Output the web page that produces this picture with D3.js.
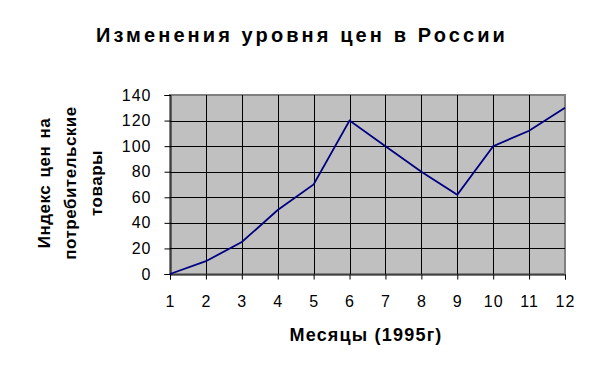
<!DOCTYPE html>
<html>
<head>
<meta charset="utf-8">
<script src="https://cdn.jsdelivr.net/npm/d3@7"></script>
<style>
  body { margin: 0; background: #fff; }
  text { font-family: "Liberation Sans", Arial, sans-serif; }
</style>
</head>
<body>
<script>
// data
var months = [1, 2, 3, 4, 5, 6, 7, 8, 9, 10, 11, 12];
var price_index = [0, 10, 25, 50, 70, 120, 100, 80, 62, 100, 112, 130];
var y_ticks = [0, 20, 40, 60, 80, 100, 120, 140];

var w = 603, h = 374;
var m_left = 170, m_right = 565, m_top = 95, m_bottom = 274;

var svg = d3.select("body").append("svg")
  .attr("width", w)
  .attr("height", h);

var x = d3.scaleLinear().domain([1, 12]).range([m_left, m_right]);
var y = d3.scaleLinear().domain([0, 140]).range([m_bottom, m_top]);

// plot background
svg.append("rect")
  .attr("x", m_left)
  .attr("y", m_top)
  .attr("width", m_right - m_left)
  .attr("height", m_bottom - m_top)
  .style("fill", "#c0c0c0")
  .style("stroke", "#808080")
  .style("stroke-width", 2);

// grid lines
svg.append("g").selectAll("line")
  .data(y_ticks.slice(1, -1))
  .enter().append("line")
  .attr("x1", m_left).attr("x2", m_right)
  .attr("y1", function(d){ return Math.round(y(d)) + 0.5; })
  .attr("y2", function(d){ return Math.round(y(d)) + 0.5; })
  .style("stroke", "#000")
  .style("stroke-width", 1);

svg.append("g").selectAll("line")
  .data(months.slice(1, -1))
  .enter().append("line")
  .attr("x1", function(d){ return Math.round(x(d)) + 0.5; })
  .attr("x2", function(d){ return Math.round(x(d)) + 0.5; })
  .attr("y1", m_top).attr("y2", m_bottom)
  .style("stroke", "#000")
  .style("stroke-width", 1);

// axes
var yAxis = d3.axisLeft(y).tickValues(y_ticks).tickSize(6).tickPadding(13);
var gy = svg.append("g")
  .attr("transform", "translate(" + (m_left + 0.5) + ",0)")
  .call(yAxis);

var xAxis = d3.axisBottom(x).tickValues(months).tickSize(5).tickPadding(16);
var gx = svg.append("g")
  .attr("transform", "translate(0," + (m_bottom + 0.5) + ")")
  .call(xAxis);

[gx, gy].forEach(function(g){
  g.select(".domain").style("stroke", "#000").attr("stroke-width", 1);
  g.selectAll(".tick line").style("stroke", "#000");
  g.selectAll(".tick text")
    .style("font-family", "'Liberation Sans', Arial, sans-serif")
    .style("font-size", "16px")
    .style("letter-spacing", "1px")
    .style("fill", "#000");
});

// line
var line = d3.line()
  .x(function(d, i){ return x(months[i]); })
  .y(function(d){ return y(d); });

svg.append("path")
  .datum(price_index)
  .attr("d", line)
  .style("fill", "none")
  .style("stroke", "#000080")
  .style("stroke-width", 1.8);

// title
svg.append("text")
  .attr("x", 302)
  .attr("y", 42)
  .attr("text-anchor", "middle")
  .style("font-weight", "bold")
  .style("font-size", "20px")
  .style("letter-spacing", "3.1px")
  .text("Изменения уровня цен в России");

// x axis title
svg.append("text")
  .attr("x", 366)
  .attr("y", 341)
  .attr("text-anchor", "middle")
  .style("font-weight", "bold")
  .style("font-size", "18px")
  .style("letter-spacing", "1.2px")
  .text("Месяцы (1995г)");

// y axis title
var ylab = ["Индекс цен на", "потребительские", "товары"];
var ylab_x = [50, 76, 102];
svg.append("g").selectAll("text")
  .data(ylab)
  .enter().append("text")
  .attr("transform", function(d, i){ return "translate(" + ylab_x[i] + ",183) rotate(-90)"; })
  .attr("text-anchor", "middle")
  .style("font-weight", "bold")
  .style("font-size", "17px")
  .style("letter-spacing", "0.5px")
  .style("word-spacing", "2px")
  .text(function(d){ return d; });
</script>
</body>
</html>
